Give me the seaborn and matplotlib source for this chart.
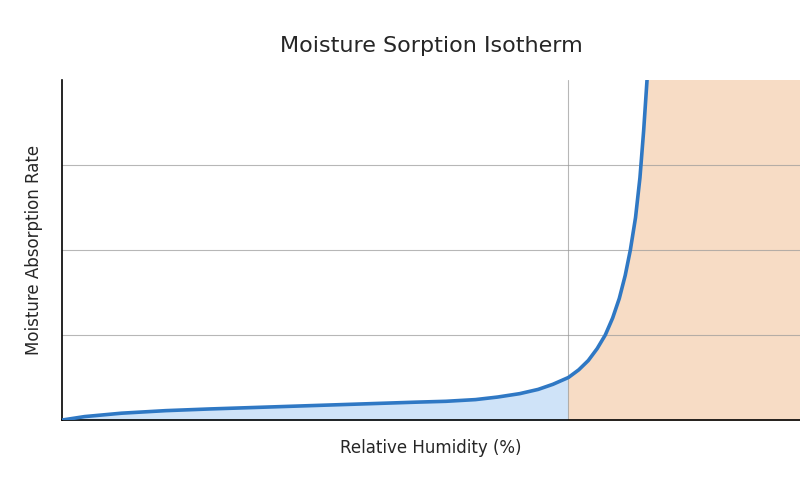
# Import necessary libraries
import numpy as np
import pandas as pd
import matplotlib.pyplot as plt
import seaborn as sns

# Sorption isotherm values
humidity = [0, 3, 8, 14, 20, 27, 34, 41, 48, 52, 56, 59, 62, 64.5, 66.5, 68.6, 70, 71.3, 72.5, 73.6, 74.6, 75.5, 76.3, 77, 77.7, 78.3, 78.8, 79.3]
absorption = [0.0, 0.04, 0.08, 0.11, 0.13, 0.15, 0.17, 0.19, 0.21, 0.22, 0.24, 0.27, 0.31, 0.36, 0.42, 0.50, 0.59, 0.70, 0.84, 1.00, 1.20, 1.43, 1.70, 2.00, 2.38, 2.85, 3.40, 4.05]
threshold = 68.6

df = pd.DataFrame({"Relative Humidity (%)": humidity, "Moisture Absorption Rate": absorption})

sns.set_style("white")

fig, ax = plt.subplots(figsize=(8, 5), dpi=100)

# Shade regions below and above the critical humidity
low = df[df["Relative Humidity (%)"] <= threshold]
high = df[df["Relative Humidity (%)"] >= threshold]
ax.fill_between(low["Relative Humidity (%)"], 0, low["Moisture Absorption Rate"], color='#cfe3f8')
ax.fill_between(list(high["Relative Humidity (%)"]) + [100], 0,
                list(high["Moisture Absorption Rate"]) + [4], color='#f7dcc5')
ax.axvspan(humidity[-1], 100, color='#f7dcc5', lw=0)

# Grid lines
for yv in [1, 2, 3]:
    ax.axhline(yv, color='#999999', lw=0.8, alpha=0.7, zorder=1.5)
ax.axvline(threshold, color='#999999', lw=0.8, alpha=0.7, zorder=1.5)

sns.lineplot(data=df, x="Relative Humidity (%)", y="Moisture Absorption Rate", ax=ax, color='#2f78c4', linewidth=2.6, zorder=3)

ax.set_xlim(0, 100)
ax.set_ylim(0, 4)
ax.set_xticks([])
ax.set_yticks([])
for side in ['top', 'right']:
    ax.spines[side].set_visible(False)
for side in ['left', 'bottom']:
    ax.spines[side].set_color('black')
    ax.spines[side].set_linewidth(1.2)

ax.set_title('Moisture Sorption Isotherm', fontsize=16, pad=20)
ax.set_xlabel('Relative Humidity (%)', fontsize=12, labelpad=14)
ax.set_ylabel('Moisture Absorption Rate', fontsize=12, labelpad=14)

fig.subplots_adjust(left=0.078, right=1.0, top=0.84, bottom=0.16)
fig.savefig('out.png')
